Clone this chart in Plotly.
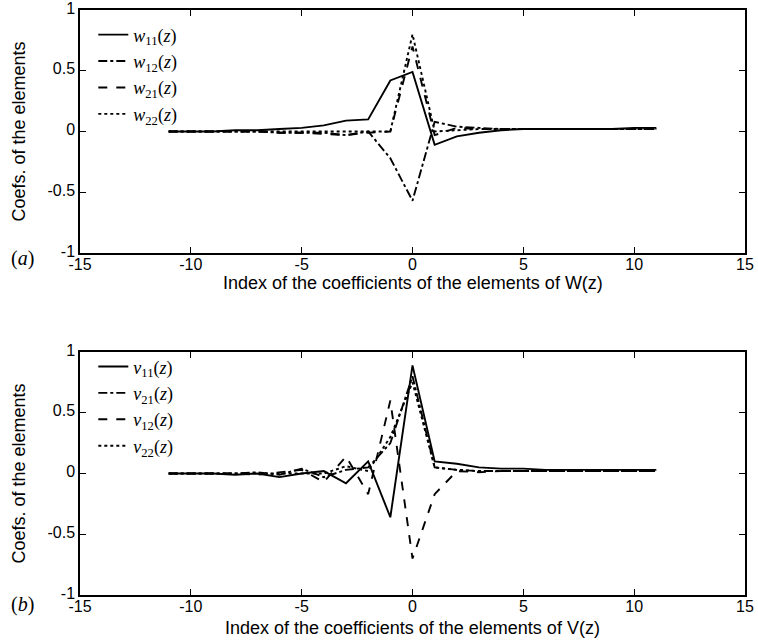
import plotly.graph_objects as go

# ---------------- data ----------------
idx = list(range(-11, 12))

w11 = [0.0, 0.0, 0.0, 0.01, 0.01, 0.02, 0.03, 0.05, 0.09, 0.10, 0.42, 0.49,
       -0.11, -0.04, -0.01, 0.01, 0.02, 0.02, 0.02, 0.02, 0.02, 0.03, 0.03]
w12 = [0.0, 0.0, 0.0, 0.0, 0.0, -0.01, -0.01, -0.01, -0.03, 0.0, -0.22, -0.57,
       0.08, 0.04, 0.03, 0.02, 0.02, 0.02, 0.02, 0.02, 0.02, 0.02, 0.02]
w21 = [0.0, 0.0, 0.0, 0.0, 0.0, -0.01, -0.01, -0.02, -0.03, -0.01, 0.0, 0.70,
       -0.03, 0.03, 0.02, 0.02, 0.02, 0.02, 0.02, 0.02, 0.02, 0.02, 0.02]
w22 = [0.0, 0.0, 0.0, 0.0, 0.0, 0.0, 0.0, 0.0, 0.0, 0.0, 0.0, 0.80,
       0.0, 0.01, 0.02, 0.02, 0.02, 0.02, 0.02, 0.02, 0.02, 0.02, 0.02]

v11 = [0.0, 0.0, 0.0, -0.01, 0.0, -0.03, 0.0, 0.02, -0.08, 0.10, -0.36, 0.89,
       0.10, 0.08, 0.05, 0.04, 0.04, 0.03, 0.03, 0.03, 0.03, 0.03, 0.03]
v21 = [0.0, 0.0, 0.0, 0.0, 0.01, -0.01, 0.04, -0.03, 0.03, 0.05, 0.25, 0.80,
       0.05, 0.03, 0.02, 0.02, 0.02, 0.02, 0.02, 0.02, 0.02, 0.02, 0.02]
v12 = [0.0, 0.0, 0.0, 0.0, -0.01, 0.01, 0.03, -0.07, 0.14, -0.17, 0.60, -0.70,
       -0.17, 0.02, 0.01, 0.02, 0.02, 0.02, 0.02, 0.02, 0.02, 0.02, 0.02]
v22 = [0.0, 0.0, 0.0, 0.0, 0.0, 0.0, 0.0, 0.0, 0.06, 0.02, 0.30, 0.75,
       0.05, 0.03, 0.02, 0.02, 0.02, 0.02, 0.02, 0.02, 0.02, 0.02, 0.02]

x_ticks = [-15, -10, -5, 0, 5, 10, 15]
x_ticktext = ["-15", "-10", "-5", "0", "5", "10", "15"]
y_ticks = [-1, -0.5, 0, 0.5, 1]
y_ticktext = ["-1", "-0.5", "0", "0.5", "1"]

top_names = ["<i>w</i><sub>11</sub>(<i>z</i>)", "<i>w</i><sub>12</sub>(<i>z</i>)",
             "<i>w</i><sub>21</sub>(<i>z</i>)", "<i>w</i><sub>22</sub>(<i>z</i>)"]
bot_names = ["<i>v</i><sub>11</sub>(<i>z</i>)", "<i>v</i><sub>21</sub>(<i>z</i>)",
             "<i>v</i><sub>12</sub>(<i>z</i>)", "<i>v</i><sub>22</sub>(<i>z</i>)"]
dashes = ["solid", "dashdot", "dash", "dot"]

top_xtitle = "Index of the coefficients of the elements of W(z)"
bot_xtitle = "Index of the coefficients of the elements of V(z)"
ytitle = "Coefs. of the elements"

# ---------------- figure ----------------
fig = go.Figure()
for name, ys, d in zip(top_names, [w11, w12, w21, w22], dashes):
    fig.add_trace(go.Scatter(x=idx, y=ys, mode="lines", name=name,
                             line=dict(color="black", width=1.9, dash=d),
                             xaxis="x", yaxis="y", legend="legend"))
for name, ys, d in zip(bot_names, [v11, v21, v12, v22], dashes):
    fig.add_trace(go.Scatter(x=idx, y=ys, mode="lines", name=name,
                             line=dict(color="black", width=1.9, dash=d),
                             xaxis="x2", yaxis="y2", legend="legend2"))

sans = "Liberation Sans Narrow, Arial Narrow, Liberation Sans, Arial"
serif = "Liberation Serif, DejaVu Serif, serif"
tickfont = dict(family=sans, size=16, color="black")
titlefont = dict(family=sans, size=18, color="black")

def xax(anchor):
    return dict(domain=[0, 1], anchor=anchor, range=[-15, 15], automargin=False,
                tickvals=x_ticks, ticktext=x_ticktext, tickfont=tickfont,
                showline=True, linecolor="black", linewidth=1.5, mirror="ticks",
                ticks="inside", ticklen=6, tickcolor="black", tickwidth=1.2,
                ticklabelstandoff=-4, ticklabeloverflow="allow",
                showgrid=False, zeroline=False)

def yax(anchor, dom):
    return dict(domain=dom, anchor=anchor, range=[-1, 1], automargin=False,
                tickvals=y_ticks, ticktext=y_ticktext, tickfont=tickfont,
                showline=True, linecolor="black", linewidth=1.5, mirror="ticks",
                ticks="inside", ticklen=6, tickcolor="black", tickwidth=1.2,
                ticklabelstandoff=0, ticklabelshift=-2, ticklabeloverflow="allow",
                showgrid=False, zeroline=False,
                title=dict(text=ytitle, font=titlefont, standoff=17))

legfont = dict(family=serif, size=18, color="black")

fig.update_layout(
    width=758, height=641,
    margin=dict(l=80, r=13, t=10, b=46),
    paper_bgcolor="white", plot_bgcolor="white",
    xaxis=xax("y"),
    yaxis=yax("x", [0.5846, 1.0]),
    xaxis2=xax("y2"),
    yaxis2=yax("x2", [0.0, 0.4154]),
    legend=dict(x=0.02, y=0.989, xanchor="left", yanchor="top",
                bgcolor="rgba(0,0,0,0)", font=legfont, tracegroupgap=0),
    legend2=dict(x=0.02, y=0.4217, xanchor="left", yanchor="top",
                 bgcolor="rgba(0,0,0,0)", font=legfont, tracegroupgap=0),
    showlegend=True,
    annotations=[
        dict(text=top_xtitle, xref="paper", yref="paper", x=0.5, y=0.533,
             xanchor="center", yanchor="middle", showarrow=False, font=titlefont),
        dict(text=bot_xtitle, xref="paper", yref="paper", x=0.5, y=-0.0564,
             xanchor="center", yanchor="middle", showarrow=False, font=titlefont),
        dict(text="(<i>a</i>)", xref="paper", yref="paper", x=-0.087, y=0.575,
             xanchor="center", yanchor="middle", showarrow=False,
             font=dict(family=serif, size=20, color="black")),
        dict(text="(<i>b</i>)", xref="paper", yref="paper", x=-0.087, y=-0.0154,
             xanchor="center", yanchor="middle", showarrow=False,
             font=dict(family=serif, size=20, color="black")),
    ],
)

fig.write_html("out.html")
